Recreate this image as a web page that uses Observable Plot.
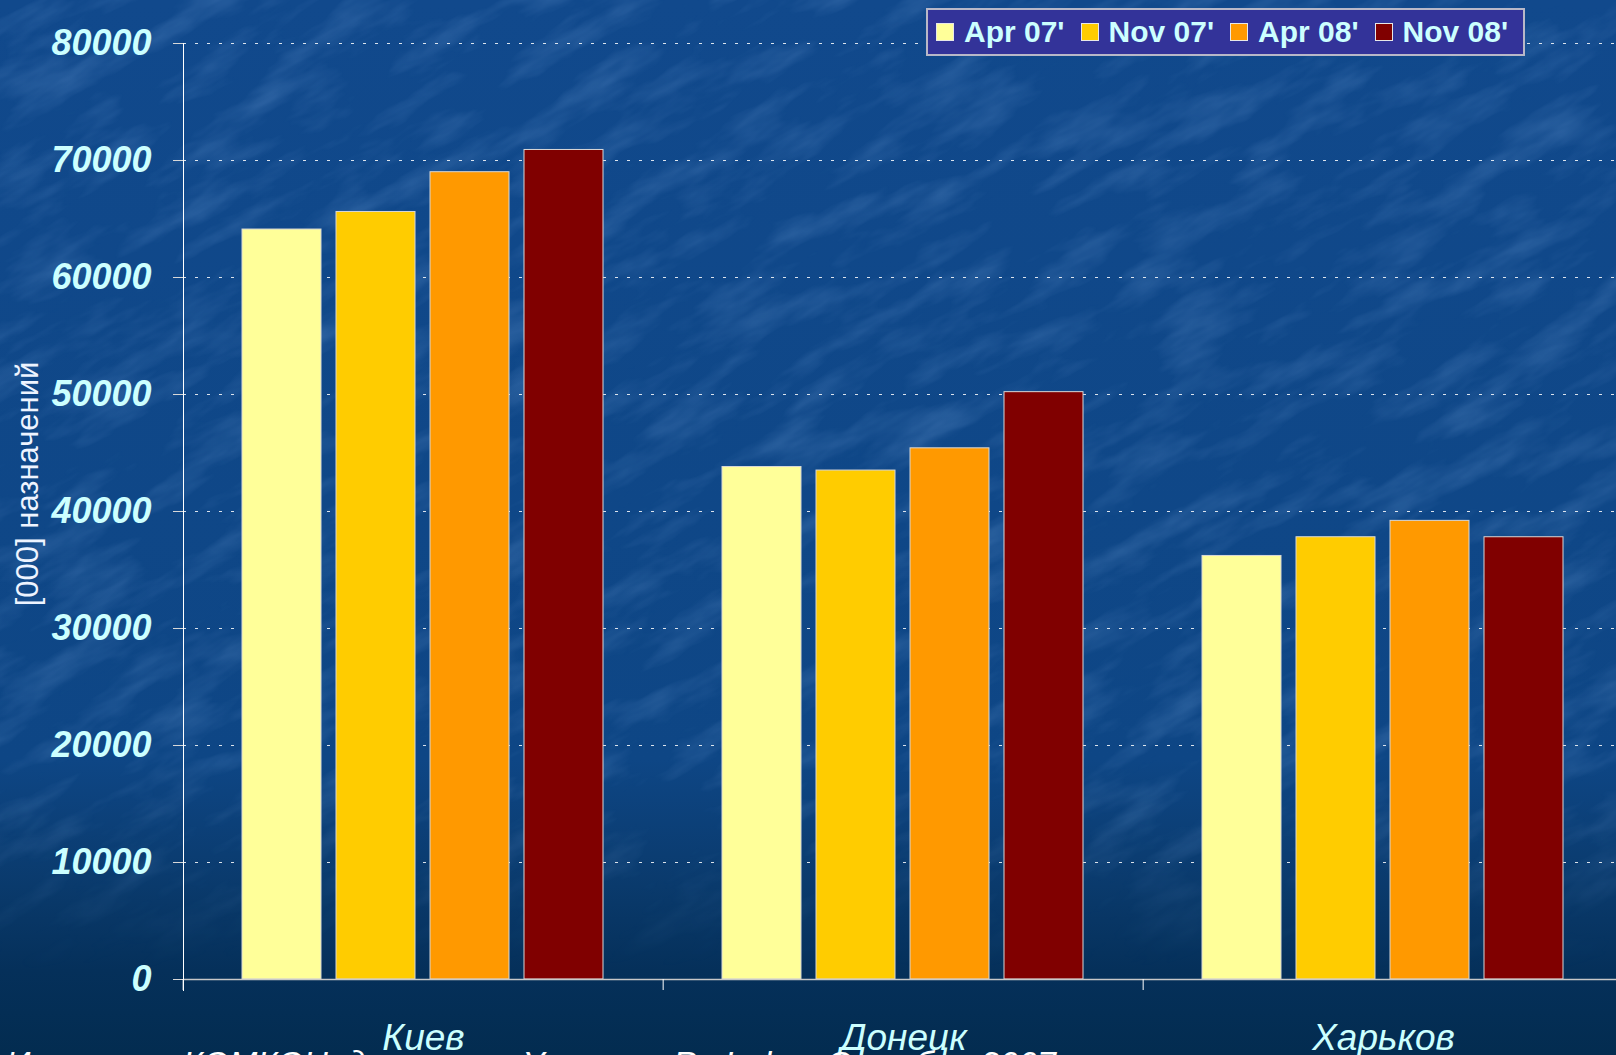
<!DOCTYPE html>
<html>
<head>
<meta charset="utf-8">
<script src="https://cdn.jsdelivr.net/npm/d3@7"></script>
<script src="https://cdn.jsdelivr.net/npm/@observablehq/plot@0.6"></script>
<style>
  html, body { margin: 0; padding: 0; }
  body { width: 1616px; height: 1055px; overflow: hidden; position: relative; font-family: "Liberation Sans", Arial, sans-serif; }
  #bg { position: absolute; left: 0; top: 0; }
  #chart { position: absolute; left: 0; top: 0; }
  #chart svg { overflow: visible; }
  #ylabel { position: absolute; left: 28px; top: 484px; transform: translate(-50%, -50%) rotate(-90deg); color: #eef4ff; font-size: 31px; white-space: nowrap; }
  #legend { position: absolute; left: 926px; top: 8px; width: 587px; height: 44px; background: #333399; border: 2px solid #b8b8c8; display: flex; align-items: center; padding-left: 8px; box-sizing: content-box; }
  .item { display: flex; align-items: center; margin-right: 16px; }
  .sw { width: 16px; height: 16px; border: 1px solid #e8e8e8; margin-right: 10px; }
  .lt { color: #ccffff; font-weight: bold; font-size: 30px; line-height: 30px; white-space: nowrap; }
  #source { position: absolute; left: 6px; top: 1046px; color: #ffffff; font-size: 34px; line-height: 34px; font-style: italic; white-space: nowrap; }
</style>
</head>
<body>
<svg id="bg" width="1616" height="1055">
  <defs>
    <linearGradient id="g" x1="0" y1="0" x2="0" y2="1">
      <stop offset="0" stop-color="#11498c"/>
      <stop offset="0.72" stop-color="#0e4685"/>
      <stop offset="0.84" stop-color="#0a3a6c"/>
      <stop offset="0.92" stop-color="#05305a"/>
      <stop offset="1" stop-color="#032c50"/>
    </linearGradient>
    <linearGradient id="fade" x1="0" y1="0" x2="0" y2="1">
      <stop offset="0" stop-color="#fff"/>
      <stop offset="0.75" stop-color="#fff"/>
      <stop offset="0.92" stop-color="#000"/>
    </linearGradient>
    <mask id="m"><rect width="1616" height="1055" fill="url(#fade)"/></mask>
    <filter id="n" x="0" y="0" width="100%" height="100%">
      <feTurbulence type="fractalNoise" baseFrequency="0.01 0.035" numOctaves="4" seed="7"/>
      <feColorMatrix type="matrix" values="0 0 0 0 0.35  0 0 0 0 0.6  0 0 0 0 1  0 0 0 1.8 -0.8"/>
    </filter>
  </defs>
  <rect width="1616" height="1055" fill="url(#g)"/>
  <g mask="url(#m)">
    <g transform="rotate(-28 808 527)">
      <rect x="-500" y="-500" width="2600" height="2100" filter="url(#n)" opacity="0.22"/>
    </g>
  </g>
</svg>
<div id="chart"></div>
<div id="ylabel">[000] назначений</div>
<div id="legend"></div>
<div id="source">Источник: КОМКОН, данные по Украине, Rx Index, Октябрь 2007</div>
<script>
const cities = ["Киев", "Донецк", "Харьков"];
const series = ["Apr 07'", "Nov 07'", "Apr 08'", "Nov 08'"];
const seriesColors = ["#ffff99", "#ffcc00", "#ff9900", "#800000"];
const kievValues = [64100, 65600, 69000, 70900];
const donetskValues = [43800, 43500, 45400, 50200];
const kharkivValues = [36200, 37800, 39200, 37800];
const yTicks = [0, 10000, 20000, 30000, 40000, 50000, 60000, 70000, 80000];

const cityValues = [kievValues, donetskValues, kharkivValues];
const data = cities.flatMap((city, i) =>
  series.map((s, j) => ({city, series: s, value: cityValues[i][j]}))
);

const W = 1616, H = 1055, mL = 182, mR = -8, mT = 43, mB = 76;
const fxBand = (W - mL - mR) / cities.length;
const fontFamily = '"Liberation Sans", Arial, sans-serif';

const chart = Plot.plot({
  width: W,
  height: H,
  marginLeft: mL,
  marginRight: mR,
  marginTop: mT,
  marginBottom: mB,
  style: {background: "transparent", fontFamily, overflow: "visible"},
  fx: {domain: cities, padding: 0},
  x: {domain: series, paddingInner: 0.158, paddingOuter: 0.616, axis: null},
  y: {domain: [0, 80000]},
  color: {domain: series, range: seriesColors},
  marks: [
    Plot.gridY(yTicks.slice(1), {stroke: "#ffffff", strokeOpacity: 0.85, strokeDasharray: "3,9"}),
    Plot.barY(data, {fx: "city", x: "series", y: "value", fill: "series", stroke: "#d8d8d8", strokeWidth: 1}),
    Plot.ruleY([0], {stroke: "#c8c8c8", strokeWidth: 1.5}),
    Plot.frame({anchor: "left", fx: cities[0], stroke: "#ffffff", insetBottom: -11}),
    Plot.axisY({
      ticks: yTicks, tickSize: 10, tickPadding: 22, tickFormat: d3.format("d"),
      fontSize: 36, fontWeight: "bold", fontStyle: "italic",
      fill: "#ccffff", stroke: "#d8d8d8", label: null
    }),
    Plot.axisFx({anchor: "bottom", tickSize: 11, tickFormat: () => "", dx: -fxBand / 2, stroke: "#ffffff", label: null}),
    Plot.axisFx({anchor: "bottom", tickSize: 0, tickPadding: 44, fontSize: 37, fontStyle: "italic", fill: "#ccffff", label: null})
  ]
});
document.getElementById("chart").appendChild(chart);

const legend = document.getElementById("legend");
series.forEach((s, i) => {
  const item = document.createElement("div");
  item.className = "item";
  const sw = document.createElement("div");
  sw.className = "sw";
  sw.style.background = seriesColors[i];
  const t = document.createElement("div");
  t.className = "lt";
  t.textContent = s;
  item.appendChild(sw);
  item.appendChild(t);
  legend.appendChild(item);
});
</script>
</body>
</html>
